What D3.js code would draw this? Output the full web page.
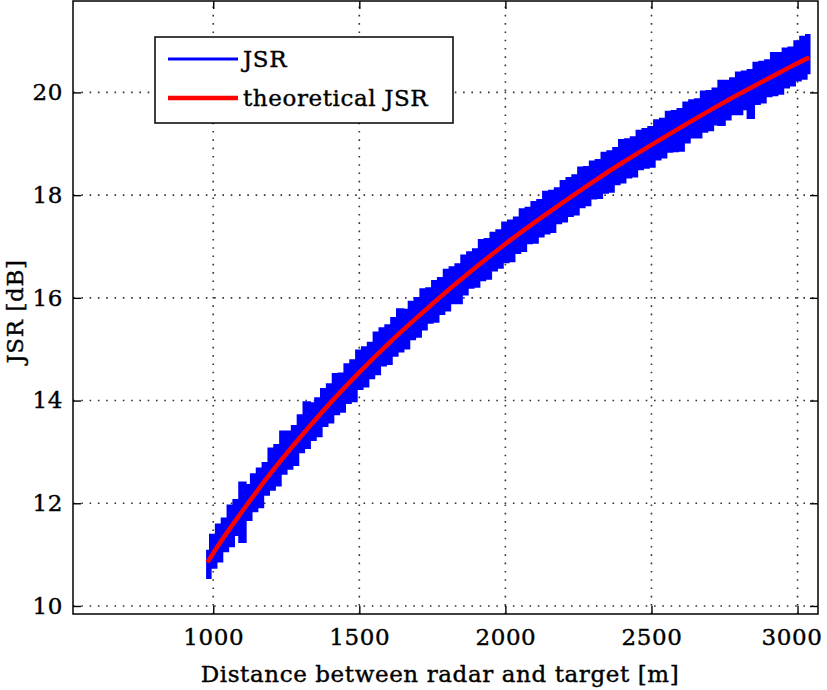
<!DOCTYPE html>
<html>
<head>
<meta charset="utf-8">
<script src="https://cdn.jsdelivr.net/npm/d3@7"></script>
<style>
  body { margin: 0; background: #fff; }
  svg { display: block; }
  text { font-family: "DejaVu Serif", serif; fill: #000; }
</style>
</head>
<body>
<svg id="chart"></svg>
<script>
// JSR vs distance — measured (noisy band) and theoretical curve

// measured JSR, read as min/max per 20 m bin (bins start at 980 m)
const distanceBins = d3.range(980, 3041, 20);
const jsrHigh = [
  11.07, 11.38, 11.58, 11.70, 11.95, 12.06, 12.40, 12.35, 12.56, 12.67,
  12.78, 13.06, 13.13, 13.39, 13.39, 13.50, 13.71, 13.96, 13.94, 14.04,
  14.22, 14.31, 14.51, 14.52, 14.70, 14.78, 14.97, 15.03, 15.12, 15.32,
  15.40, 15.46, 15.60, 15.77, 15.76, 15.92, 15.99, 16.16, 16.18, 16.32,
  16.38, 16.54, 16.59, 16.65, 16.82, 16.88, 16.94, 17.12, 17.14, 17.26,
  17.31, 17.46, 17.50, 17.56, 17.72, 17.75, 17.86, 17.90, 18.06, 18.08,
  18.13, 18.27, 18.33, 18.38, 18.53, 18.54, 18.65, 18.68, 18.82, 18.85,
  18.91, 19.07, 19.08, 19.12, 19.25, 19.28, 19.32, 19.45, 19.48, 19.62,
  19.63, 19.67, 19.80, 19.84, 19.86, 20.01, 20.02, 20.07, 20.22, 20.22,
  20.27, 20.38, 20.40, 20.43, 20.57, 20.59, 20.62, 20.76, 20.76, 20.85,
  20.87, 20.99, 21.08, 21.11
];
const jsrLow = [
  10.55, 10.75, 10.87, 11.07, 11.17, 11.39, 11.25, 11.68, 11.85, 11.93,
  12.17, 12.27, 12.35, 12.58, 12.68, 12.75, 13.00, 13.08, 13.24, 13.31,
  13.51, 13.58, 13.74, 13.79, 13.96, 13.99, 14.23, 14.28, 14.44, 14.52,
  14.69, 14.72, 14.88, 14.96, 15.02, 15.20, 15.25, 15.39, 15.52, 15.54,
  15.69, 15.76, 15.90, 15.90, 16.07, 16.20, 16.22, 16.35, 16.38, 16.54,
  16.59, 16.70, 16.72, 16.88, 16.92, 17.07, 17.08, 17.20, 17.26, 17.29,
  17.46, 17.49, 17.60, 17.63, 17.77, 17.81, 17.94, 17.95, 18.05, 18.07,
  18.22, 18.25, 18.35, 18.37, 18.51, 18.54, 18.56, 18.70, 18.74, 18.85,
  18.86, 18.87, 19.03, 19.13, 19.13, 19.24, 19.27, 19.38, 19.37, 19.48,
  19.58, 19.58, 19.68, 19.51, 19.78, 19.81, 19.93, 19.95, 19.98, 20.10,
  20.14, 20.24, 20.27, 20.38
];

// theoretical JSR
const theoryDistance = [980, 1000, 1100, 1200, 1300, 1400, 1500, 1600, 1700, 1800, 1900,
  2000, 2100, 2200, 2300, 2400, 2500, 2600, 2700, 2800, 2900, 3000, 3040];
const theoryJsr = [10.85, 11.03, 11.85, 12.61, 13.30, 13.95, 14.55, 15.11, 15.63, 16.13, 16.60,
  17.05, 17.47, 17.87, 18.26, 18.63, 18.98, 19.32, 19.65, 19.97, 20.27, 20.57, 20.68];

const xTicks = [1000, 1500, 2000, 2500, 3000];
const yTicks = [10, 12, 14, 16, 18, 20];
const legendLabels = ["JSR", "theoretical JSR"];
const legendColors = ["#0000ff", "#ff0000"];

const width = 827;
const height = 690;
const box = { left: 73, right: 818, top: 1, bottom: 614 };
const fontSize = 23;

const svg = d3.select("#chart")
  .attr("width", width)
  .attr("height", height);

svg.append("rect").attr("width", width).attr("height", height).attr("fill", "#fff");

const x = d3.scaleLinear().domain([520, 3070]).range([box.left, box.right]);
const y = d3.scaleLinear().domain([9.844, 21.78]).range([box.bottom, box.top]);

// dotted grid
const grid = svg.append("g")
  .attr("stroke", "#333")
  .attr("stroke-width", 1.6)
  .attr("stroke-dasharray", "1.6,6.7");
grid.selectAll("line.vx").data(xTicks).join("line")
  .attr("x1", d => x(d)).attr("x2", d => x(d))
  .attr("y1", box.bottom).attr("y2", box.top);
grid.selectAll("line.hy").data(yTicks).join("line")
  .attr("class", "hy")
  .attr("x1", box.left).attr("x2", box.right)
  .attr("y1", d => y(d)).attr("y2", d => y(d));

// measured JSR band
const band = d3.area()
  .x((d, i) => x(distanceBins[i]))
  .y0((d, i) => y(jsrLow[i]))
  .y1((d, i) => y(jsrHigh[i]))
  .curve(d3.curveStep);

svg.append("path")
  .datum(jsrHigh)
  .attr("d", band)
  .attr("fill", legendColors[0])
  .attr("stroke", legendColors[0])
  .attr("stroke-width", 2.6)
  .attr("stroke-linejoin", "miter");

// theoretical JSR
const line = d3.line()
  .x((d, i) => x(theoryDistance[i]))
  .y(d => y(d))
  .curve(d3.curveMonotoneX);

svg.append("path")
  .datum(theoryJsr)
  .attr("d", line)
  .attr("fill", "none")
  .attr("stroke", legendColors[1])
  .attr("stroke-width", 4.5);

// axes: ticks point inward on all four sides
function styleAxis(g) {
  g.select(".domain").remove();
  g.selectAll(".tick line").attr("stroke", "#000").attr("stroke-width", 1.4);
  g.selectAll("text")
    .attr("font-family", "DejaVu Serif, serif")
    .attr("font-size", fontSize)
    .attr("letter-spacing", 0.6)
    .attr("stroke", "#000")
    .attr("stroke-width", 0.4)
    .attr("fill", "#000");
}

const xAxis = svg.append("g")
  .attr("transform", `translate(0,${box.bottom})`)
  .call(d3.axisBottom(x).tickValues(xTicks).tickFormat(d3.format("d"))
    .tickSizeInner(-8).tickSizeOuter(0).tickPadding(15))
  .call(styleAxis);
// the last label sits a little inside, as in the original
xAxis.selectAll(".tick text").filter(d => d === 3000).attr("dx", -6);

svg.append("g")
  .attr("transform", `translate(0,${box.top})`)
  .call(d3.axisTop(x).tickValues(xTicks).tickSizeInner(-8).tickSizeOuter(0).tickFormat(""))
  .call(styleAxis);

svg.append("g")
  .attr("transform", `translate(${box.left},0)`)
  .call(d3.axisLeft(y).tickValues(yTicks).tickSizeInner(-8).tickSizeOuter(0).tickPadding(10))
  .call(styleAxis);

svg.append("g")
  .attr("transform", `translate(${box.right},0)`)
  .call(d3.axisRight(y).tickValues(yTicks).tickSizeInner(-8).tickSizeOuter(0).tickFormat(""))
  .call(styleAxis);

svg.append("rect")
  .attr("x", box.left).attr("y", box.top)
  .attr("width", box.right - box.left).attr("height", box.bottom - box.top)
  .attr("fill", "none")
  .attr("stroke", "#000")
  .attr("stroke-width", 1.5);

// axis labels
const labelStyle = t => t
  .attr("font-size", fontSize)
  .attr("letter-spacing", 0.6)
  .attr("stroke", "#000")
  .attr("stroke-width", 0.4);

svg.append("text")
  .attr("x", 440).attr("y", 682)
  .attr("text-anchor", "middle")
  .call(labelStyle)
  .text("Distance between radar and target [m]");

svg.append("text")
  .attr("transform", `translate(23,${(box.top + box.bottom) / 2 + 4}) rotate(-90)`)
  .attr("text-anchor", "middle")
  .call(labelStyle)
  .text("JSR [dB]");

// legend
const legend = svg.append("g").attr("transform", "translate(155,37)");
legend.append("rect")
  .attr("width", 298).attr("height", 86)
  .attr("fill", "#fff")
  .attr("stroke", "#000")
  .attr("stroke-width", 1.5);

const items = legend.selectAll("g.item")
  .data(legendLabels)
  .join("g")
  .attr("class", "item")
  .attr("transform", (d, i) => `translate(0,${22 + i * 39})`);

items.append("line")
  .attr("x1", 13).attr("x2", 83)
  .attr("stroke", (d, i) => legendColors[i])
  .attr("stroke-width", (d, i) => i === 0 ? 3 : 4.5);

items.append("text")
  .attr("x", 88).attr("y", 8)
  .call(labelStyle)
  .text(d => d);
</script>
</body>
</html>
